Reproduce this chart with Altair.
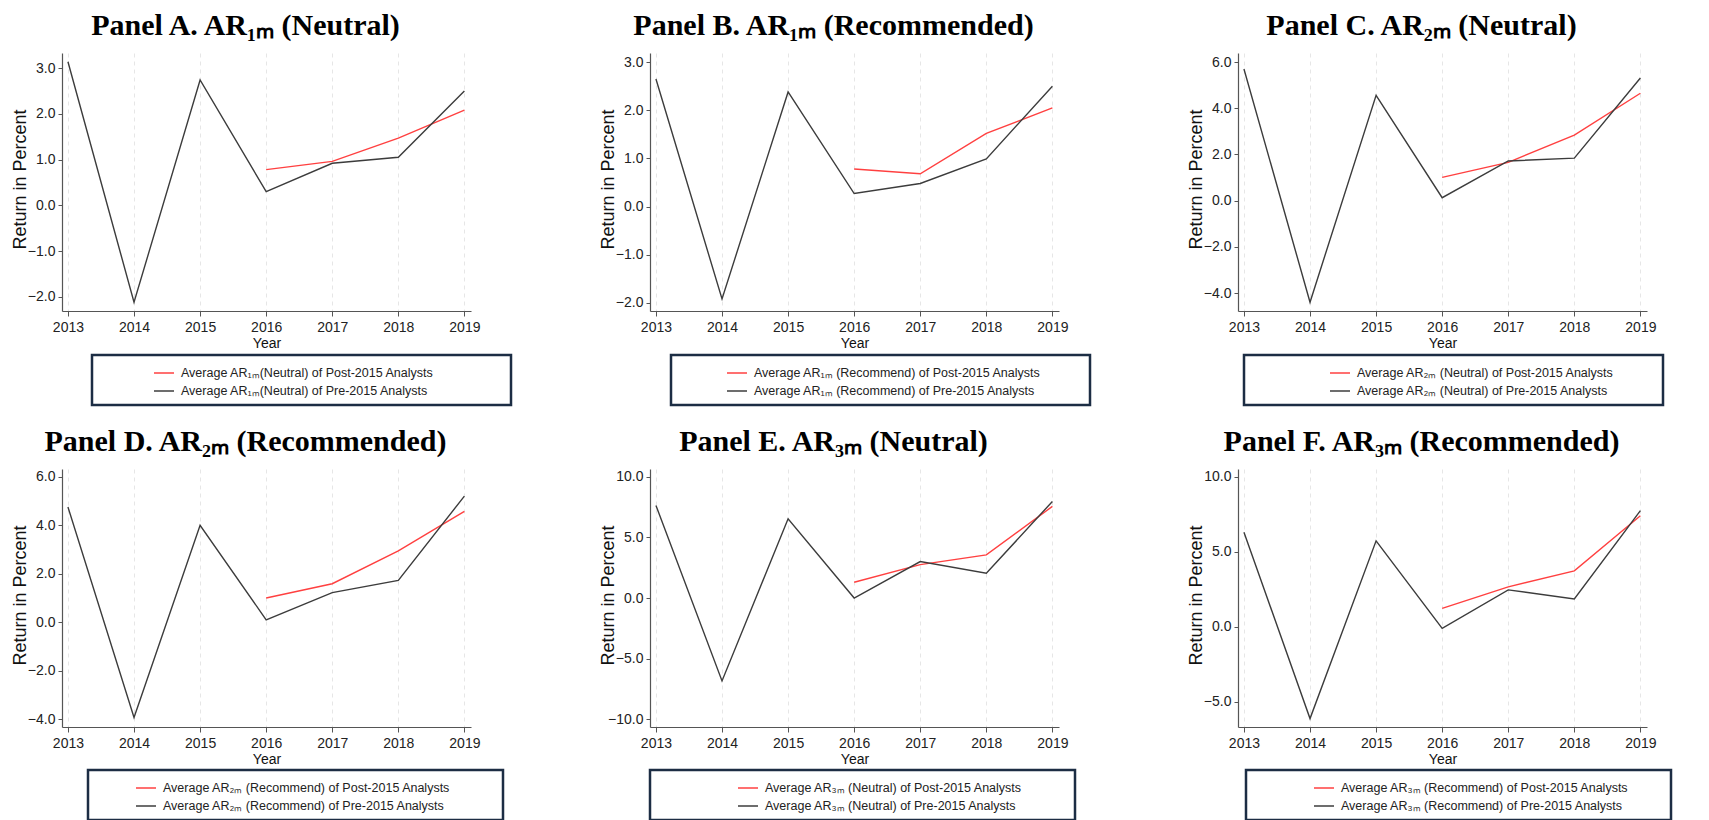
import altair as alt
import pandas as pd

YEARS = [2013, 2014, 2015, 2016, 2017, 2018, 2019]
POST_YEARS = [2016, 2017, 2018, 2019]

TITLES = [
    "Panel A. AR₁ₘ (Neutral)",
    "Panel B. AR₁ₘ (Recommended)",
    "Panel C. AR₂ₘ (Neutral)",
    "Panel D. AR₂ₘ (Recommended)",
    "Panel E. AR₃ₘ (Neutral)",
    "Panel F. AR₃ₘ (Recommended)",
]
MEASURES = [
    "AR₁ₘ(Neutral)",
    "AR₁ₘ (Recommend)",
    "AR₂ₘ (Neutral)",
    "AR₂ₘ (Recommend)",
    "AR₃ₘ (Neutral)",
    "AR₃ₘ (Recommend)",
]

PRE_A = [3.14, -2.12, 2.74, 0.30, 0.92, 1.05, 2.50]
POST_A = [0.78, 0.96, 1.47, 2.08]
PRE_B = [2.65, -1.92, 2.38, 0.27, 0.48, 0.99, 2.50]
POST_B = [0.78, 0.68, 1.52, 2.05]
PRE_C = [5.70, -4.39, 4.56, 0.13, 1.72, 1.84, 5.31]
POST_C = [1.01, 1.66, 2.84, 4.65]
PRE_D = [4.76, -3.94, 4.00, 0.10, 1.22, 1.73, 5.21]
POST_D = [1.00, 1.59, 2.95, 4.58]
PRE_E = [7.65, -6.85, 6.55, 0.00, 3.01, 2.04, 7.98]
POST_E = [1.30, 2.76, 3.56, 7.57]
PRE_F = [6.32, -6.11, 5.74, -0.10, 2.47, 1.87, 7.75]
POST_F = [1.24, 2.67, 3.74, 7.41]

YTICKS_A = [-2, -1, 0, 1, 2, 3]
YTICKS_B = [-2, -1, 0, 1, 2, 3]
YTICKS_C = [-4, -2, 0, 2, 4, 6]
YTICKS_D = [-4, -2, 0, 2, 4, 6]
YTICKS_E = [-10, -5, 0, 5, 10]
YTICKS_F = [-5, 0, 5, 10]

# layout / style (not data)
YDOM = [[-2.31, 3.33], [-2.17, 3.19], [-4.77, 6.39], [-4.33, 6.33], [-10.66, 10.66], [-6.67, 10.53]]
PANEL_W = 409
PANEL_H = 258
LEG_X = [30, 21, 6, 26, 0, 8]
LEG_Y = [302, 302, 302, 301, 301, 301]
SYM_OFF = [54, 48, 78, 40, 80, 60]
PAD_N = [20, 12, 12, 13, 13, 10]   # blank padding inside each legend box (right side)

SANS = "Liberation Sans Narrow, Arial Narrow, Liberation Sans, sans-serif"
SERIF = "Liberation Serif, Times New Roman, serif"
RED = "#ff4040"
DARK = "#3c3c3c"


def panel(i, pre, post, yticks):
    post_label = f"Average {MEASURES[i]} of Post-2015 Analysts"
    pre_label = f"Average {MEASURES[i]} of Pre-2015 Analysts"
    df = pd.DataFrame({
        "Year": POST_YEARS + YEARS,
        "Value": post + pre,
        "Series": [post_label] * len(post) + [pre_label] * len(pre),
    })
    pad = "\u00a0" * PAD_N[i] + "\u200b"
    return alt.Chart(
        df,
        title=alt.Title(
            TITLES[i], font=SERIF, fontSize=30, fontWeight="bold", color="#000000",
            anchor="middle", dx=-21, offset=12,
        ),
    ).mark_line(strokeWidth=1.4).encode(
        x=alt.X(
            "Year:Q",
            scale=alt.Scale(domain=[2012.91, 2019.1], nice=False, zero=False),
            axis=alt.Axis(
                values=YEARS, format="d", title="Year", grid=True,
                gridDash=[4, 4], gridColor="#e6e6e6", gridWidth=1,
                tickSize=5, labelPadding=4, titlePadding=2,
                labelFontSize=14, titleFontSize=14,
            ),
        ),
        y=alt.Y(
            "Value:Q",
            scale=alt.Scale(domain=YDOM[i], nice=False, zero=False),
            axis=alt.Axis(
                values=yticks, format=".1f", title="Return in Percent", grid=False,
                tickSize=4, labelPadding=3,
                titleX=-37, titleY=PANEL_H / 2 - 3, titleAngle=270,
                titleAlign="center", titleBaseline="alphabetic",
                labelFontSize=14, titleFontSize=18,
            ),
        ),
        color=alt.Color(
            "Series:N",
            scale=alt.Scale(domain=[post_label, pre_label], range=[RED, DARK]),
            legend=alt.Legend(
                title=None, orient="none", legendX=LEG_X[i], legendY=LEG_Y[i],
                direction="vertical", strokeColor="#1c2d44",
                padding=7, symbolType="stroke", symbolSize=400,
                symbolStrokeWidth=1.5, symbolOffset=SYM_OFF[i], labelOffset=6,
                labelFont=SANS, labelFontSize=12.5, labelColor="#222222",
                labelLimit=800, rowPadding=0,
                labelExpr=f"datum.label + '{pad}'",
            ),
        ),
    ).properties(width=PANEL_W, height=PANEL_H)


panels = [
    panel(0, PRE_A, POST_A, YTICKS_A),
    panel(1, PRE_B, POST_B, YTICKS_B),
    panel(2, PRE_C, POST_C, YTICKS_C),
    panel(3, PRE_D, POST_D, YTICKS_D),
    panel(4, PRE_E, POST_E, YTICKS_E),
    panel(5, PRE_F, POST_F, YTICKS_F),
]

chart = alt.concat(
    *panels, columns=3, spacing={"row": 158, "column": 179}, bounds="flush"
).resolve_scale(
    color="independent", x="independent", y="independent"
).resolve_legend(
    color="independent"
).properties(
    padding={"left": 3, "top": 3, "right": 5, "bottom": 0},
    background="white",
).configure_view(
    strokeWidth=0
).configure_axis(
    labelFont=SANS, titleFont=SANS, labelColor="#222222", titleColor="#111111",
    titleFontWeight="normal", domainColor="#555555", tickColor="#555555",
    domainWidth=1.2,
).configure_legend(
    strokeWidth=2.5
)

chart.save("out.html", embed_options={"renderer": "svg", "actions": False})
